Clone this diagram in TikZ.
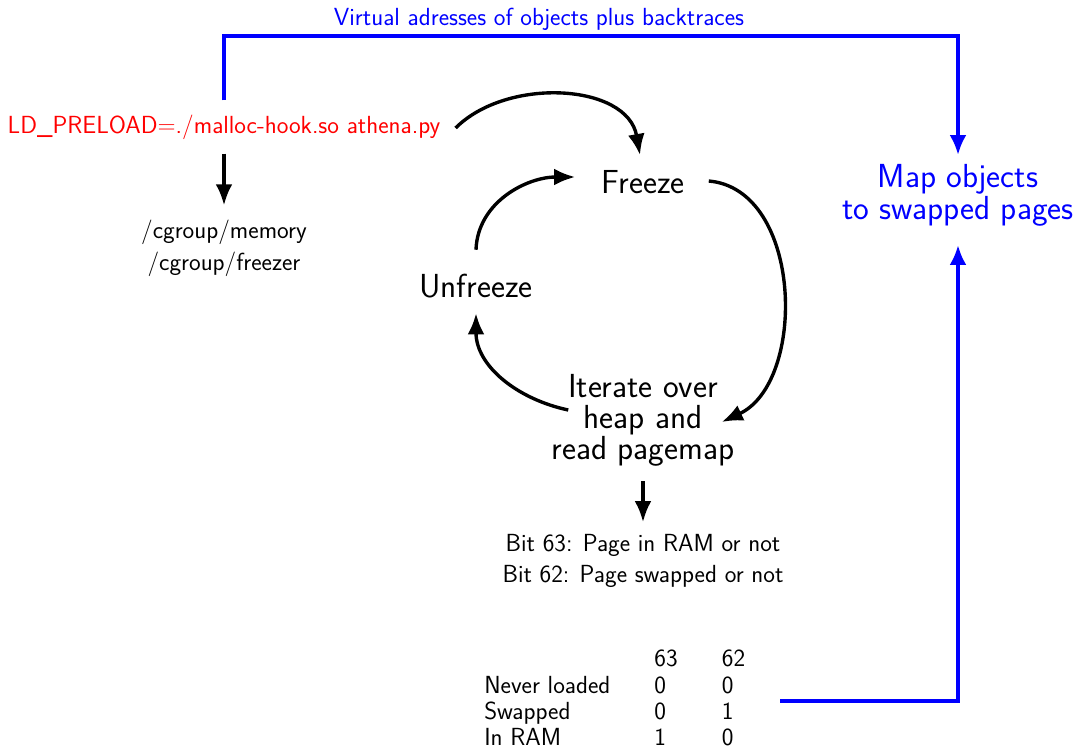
\documentclass[tikz,border=0pt]{standalone}
\usepackage{fontspec}
\usetikzlibrary{arrows.meta,calc}
\begin{document}
\begin{tikzpicture}[x=0.025cm,y=0.025cm,
  small/.style={font=\sffamily\fontsize{17.6}{22.8}\selectfont, inner sep=0pt},
  big/.style={font=\sffamily\fontsize{23.7}{22}\selectfont, inner sep=0pt},
  conn/.style={line width=2.4pt, -{Latex[length=15pt,width=12pt]}},
  bconn/.style={line width=2.2pt, blue, -{Latex[length=14pt,width=12pt]}}]
\useasboundingbox (0,0) rectangle (1078,-752);
% texts
\coordinate (top) at (539,-36);
\node[small, blue, anchor=south] (vtxt) at (539,-31) {Virtual adresses of objects plus backtraces};
\node[small, red] (ld) at (224,-127) {LD\_PRELOAD=./malloc-hook.so athena.py};
\node[small, align=center] (cg) at (224,-248) {/cgroup/memory\\/cgroup/freezer};
\node[big] (freeze) at (643,-182) {Freeze};
\node[big] (unfreeze) at (476,-286) {Unfreeze};
\node[big, align=center] (iter) at (643,-420) {Iterate over\\heap and\\read pagemap};
\node[big, blue, align=center, font=\sffamily\fontsize{23.7}{22.8}\selectfont] (map) at (958,-195) {Map objects\\to swapped pages};
\node[small, align=center, font=\sffamily\fontsize{17.6}{22}\selectfont] (bits) at (643,-561) {Bit 63: Page in RAM or not\\Bit 62: Page swapped or not};
\node[small, anchor=west, font=\sffamily\fontsize{17.6}{18.8}\selectfont] (tab) at (484,-701)
  {\begin{tabular}{@{}p{109pt}p{36pt}l@{}}
   & 63 & 62\\
   Never loaded & 0 & 0\\
   Swapped & 0 & 1\\
   In RAM & 1 & 0
   \end{tabular}};
% connectors
\draw[bconn] ($(ld.north)+(0,14)$) |- (top) -| ($(map.north)+(0,9)$);
\draw[bconn] ($(tab.east)+(35,0)$) -| ($(map.south)+(0,-19)$);
\draw[conn] ($(ld.south)+(0,-14)$) -- ($(cg.north)+(0,14)$);
\draw[conn] ($(ld.east)+(15,-1)$) to[out=45,in=100] ($(freeze.north)+(-3,15)$);
\draw[conn] ($(freeze.east)+(24,1)$) to[out=-5,in=25] ($(iter.east)+(-13,-2)$);
\draw[conn] ($(iter.west)+(17,10)$) to[out=168,in=-90] ($(unfreeze.south)+(0,-15)$);
\draw[conn] ($(unfreeze.north)+(0,24)$) to[out=88,in=180] ($(freeze.west)+(-26,5)$);
\draw[conn] ($(iter.south)+(0,-15)$) -- ($(bits.north)+(0,12)$);
\end{tikzpicture}
\end{document}
